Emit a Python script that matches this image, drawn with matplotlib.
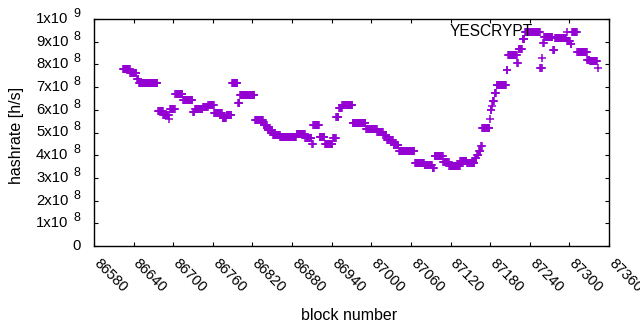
import numpy as np
import matplotlib
matplotlib.use('Agg')
import matplotlib.pyplot as plt
import matplotlib.transforms as mtransforms

plt.rcParams['font.family'] = ['Liberation Sans', 'DejaVu Sans']

# Hashrate runs: each run starts at a block and keeps
# its value until the next run starts (values in units of 1e8 h/s)
run_start = [86624, 86635, 86645, 86648, 86677, 86685, 86694, 86695, 86703, 86715,
             86730, 86733, 86745, 86753, 86762, 86775, 86781, 86789, 86798, 86801,
             86824, 86837, 86843, 86851, 86862, 86887, 86900, 86910, 86912, 86922,
             86930, 86942, 86947, 86951, 86956, 86972, 86992, 87009, 87018, 87024,
             87034, 87042, 87066, 87081, 87093, 87096, 87109, 87118, 87135, 87145,
             87157, 87160, 87163, 87166, 87168, 87180, 87181, 87183, 87184, 87187,
             87190, 87205, 87207, 87221, 87223, 87229, 87233, 87256, 87259, 87260,
             87262, 87275, 87278, 87296, 87297, 87302, 87304, 87312, 87327, 87331,
             87343]
run_value = [7.79, 7.62, 7.35, 7.18, 5.94, 5.77, 5.60, 6.03, 6.69, 6.43,
             5.91, 6.03, 6.12, 6.20, 5.84, 5.62, 5.77, 7.18, 6.32, 6.63,
             5.54, 5.32, 5.09, 4.88, 4.82, 4.95, 4.75, 4.49, 5.32, 4.81,
             4.49, 4.76, 5.68, 6.09, 6.20, 5.43, 5.17, 5.03, 4.88, 4.69,
             4.46, 4.20, 3.65, 3.56, 3.45, 3.96, 3.71, 3.53, 3.75, 3.65,
             3.87, 4.01, 4.19, 4.41, 5.18, 5.59, 6.00, 6.15, 6.37, 6.74,
             7.08, 7.77, 8.41, 8.06, 8.70, 9.13, 9.43, 7.84, 8.28, 8.94,
             9.21, 8.62, 9.15, 9.43, 9.05, 8.90, 9.44, 8.56, 8.20, 8.16,
             7.84]
last_block = 87343

x_ticks = list(range(86580, 87361, 60))
y_mant = [0, 1, 2, 3, 4, 5, 6, 7, 8, 9, 1]
y_exp = [None, 8, 8, 8, 8, 8, 8, 8, 8, 8, 9]
y_ticks = [i * 1e8 for i in range(11)]

# expand the runs to one point per block
run_start = np.array(run_start)
blocks = np.arange(run_start[0], last_block + 1)
idx = np.searchsorted(run_start, blocks, side='right') - 1
hashrate = np.array(run_value)[idx] * 1e8

W, H = 640, 330
fig = plt.figure(figsize=(W / 100, H / 100), dpi=100)
ax = fig.add_axes([94 / W, 1 - 246 / H, (609 - 94) / W, (246 - 19) / H])

ax.plot(blocks, hashrate, linestyle='none', marker='+', color='#9400d3',
        markersize=5.6, markeredgewidth=1.1)

ax.set_xlim(86580, 87360)
ax.set_ylim(0, 1e9)
ax.set_xticks(x_ticks)
ax.set_xticklabels([str(t) for t in x_ticks], rotation=-45, ha='left', va='top',
                   rotation_mode='anchor', fontsize=10.5)
ax.set_yticks(y_ticks)
ax.set_yticklabels([])
ax.tick_params(direction='in', top=True, right=True, length=3, width=0.8, pad=5)
for s in ax.spines.values():
    s.set_linewidth(1.0)

# shift the rotated tick labels like gnuplot does
offset = mtransforms.ScaledTranslation(7 / 100, -3 / 100, fig.dpi_scale_trans)
for lab in ax.get_xticklabels():
    lab.set_transform(lab.get_transform() + offset)

# y tick labels "Nx10^e" built from two texts
ylab_tr = mtransforms.blended_transform_factory(fig.transFigure, ax.transData)
sup_off = mtransforms.ScaledTranslation(0, 5 / 100, fig.dpi_scale_trans)
for v, m, e in zip(y_ticks, y_mant, y_exp):
    if e is None:
        fig.text(80.5 / W, v, '%d' % m, transform=ylab_tr, fontsize=10.7,
                 ha='right', va='center')
    else:
        fig.text(68.5 / W, v, '%dx10' % m, transform=ylab_tr, fontsize=10.7,
                 ha='right', va='center')
        fig.text(73.5 / W, v, '%d' % e, transform=ylab_tr + sup_off, fontsize=9,
                 ha='left', va='center')

fig.text(349 / W, 1 - 316 / H, 'block number', fontsize=11.5, ha='center', va='center')
fig.text(16.5 / W, 1 - 135 / H, 'hashrate [h/s]', fontsize=11.5, rotation=90,
         ha='center', va='center')
fig.text(533 / W, 1 - 32 / H, 'YESCRYPT', fontsize=11.2, ha='right', va='center')

fig.savefig('out.png', dpi=100)
